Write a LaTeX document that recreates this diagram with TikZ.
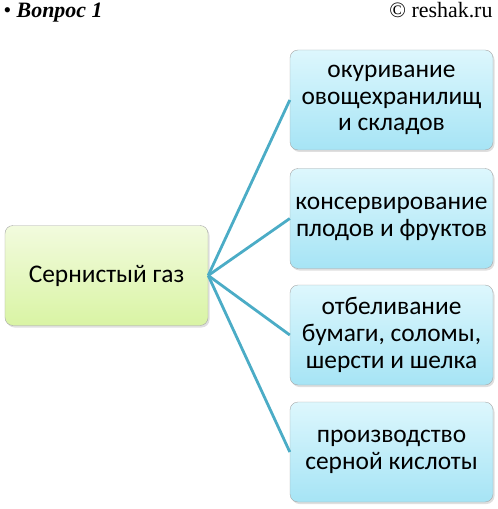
\documentclass[tikz,border=0pt]{standalone}
\usepackage{fontspec}
\setmainfont{Carlito}
\newfontfamily\headfont{Liberation Serif}
\usetikzlibrary{shadows}
\definecolor{linkblue}{HTML}{4BACC6}
\definecolor{boxedge}{HTML}{A8A8A8}
\definecolor{gastop}{HTML}{F2FBDE}
\definecolor{gasbottom}{HTML}{D9F4A4}
\definecolor{usetop}{HTML}{DDF7FD}
\definecolor{usebottom}{HTML}{A6E4F5}
\begin{document}
\begin{tikzpicture}[x=1bp,y=-1bp,
	every node/.style={font=\fontsize{25.5}{27}\selectfont},
	basebox/.style={draw=boxedge,rounded corners=8bp,align=center,inner sep=0pt,
		drop shadow={shadow xshift=1.5bp,shadow yshift=-2bp,opacity=0.25}},
	gasbox/.style={basebox,minimum width=203bp,minimum height=100bp,
		top color=gastop,bottom color=gasbottom},
	usebox/.style={basebox,minimum width=203bp,minimum height=100bp,
		top color=usetop,bottom color=usebottom},
	link/.style={draw=linkblue,line width=2.8bp}]

	\useasboundingbox (0,0) rectangle (498,509);

	\node[anchor=base west,font=\headfont\fontsize{22}{24}\selectfont] (title) at (0,18) {•~\textbf{\textit{Вопрос 1}}};
	\node[anchor=base east,font=\headfont\fontsize{22}{24}\selectfont] (site) at (496,18) {© reshak.ru};

	\node[gasbox] (gas) at (106.5,275.5) {Сернистый газ};
	\node[usebox] (use1) at (391.5,100) {окуривание\\овощехранилищ\\и складов};
	\node[usebox] (use2) at (391.5,218.5) {консервирование\\плодов и фруктов};
	\node[usebox] (use3) at (391.5,335) {отбеливание\\бумаги, соломы,\\шерсти и шелка};
	\node[usebox] (use4) at (391.5,452) {производство\\серной кислоты};

	\foreach \n in {use1,use2,use3,use4}
		\draw[link] (gas.east) -- (\n.west);
\end{tikzpicture}
\end{document}
